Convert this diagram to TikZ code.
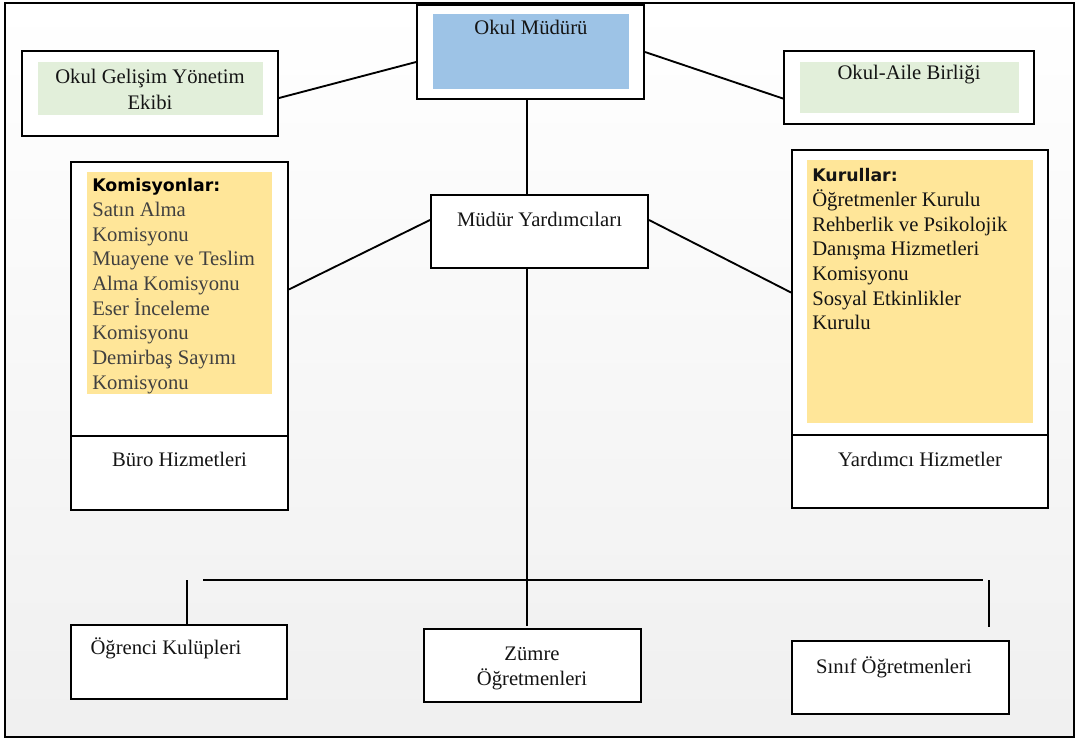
\documentclass[tikz,border=0pt]{standalone}
\usepackage{fontspec}
\setmainfont{Liberation Serif}
\newfontfamily\headfont{DejaVu Sans}
\usepackage{tikz}
\usetikzlibrary{positioning}
\usepackage{xcolor}
\definecolor{okblue}{RGB}{157,195,230}
\definecolor{okgreen}{RGB}{226,239,218}
\definecolor{okyellow}{RGB}{255,230,153}
\definecolor{okgray}{RGB}{64,64,64}
\definecolor{okink}{RGB}{20,20,20}
\newcommand{\pxl}{0.75pt}
\newcommand{\headline}[1]{{\headfont\bfseries\fontsize{13}{18.5}\selectfont #1}}
\tikzstyle{frame} = [rectangle, draw=black, line width=1.5pt, fill=white, inner sep=0pt]
\tikzstyle{panel} = [rectangle, inner sep=0pt]
\tikzstyle{txt} = [inner sep=0pt, font=\fontsize{15.5}{18.5}\selectfont, text=okink]
\tikzstyle{line} = [line width=1.4pt, color=black]

\begin{document}
\begin{tikzpicture}[x=0.75pt, y=-0.75pt]
\useasboundingbox (0,0) rectangle (1078,740);
% page background and frame
\shade[top color=white, bottom color=black!6] (5,3) rectangle (1074,737);
\draw[line width=1.6pt] (5,3) rectangle (1074,737);

% top row
\node[frame, minimum width=227*\pxl, minimum height=94*\pxl] (mudur) at (530.5,52) {};
\node[panel, fill=okblue, minimum width=196*\pxl, minimum height=75*\pxl] (mudurbg) at (531,51.5) {};
\node[txt] (mudurtxt) at (531,27) {Okul Müdürü};

\node[frame, minimum width=256*\pxl, minimum height=85*\pxl] (gelisim) at (150,93.5) {};
\node[panel, fill=okgreen, minimum width=225*\pxl, minimum height=53*\pxl] (gelisimbg) at (150.5,88.5) {};
\node[txt, align=center, font=\fontsize{15.5}{19.5}\selectfont] (gelisimtxt) at (150,89) {Okul Gelişim Yönetim\\Ekibi};

\node[frame, minimum width=250*\pxl, minimum height=73*\pxl] (aile) at (909,87.5) {};
\node[panel, fill=okgreen, minimum width=219*\pxl, minimum height=51*\pxl] (ailebg) at (909.5,87.5) {};
\node[txt] (ailetxt) at (909,75) {Okul-Aile Birliği};

% middle row
\node[frame, minimum width=217*\pxl, minimum height=73*\pxl] (yard) at (539.5,231.5) {};
\node[txt] (yardtxt) at (539.5,219) {Müdür Yardımcıları};

\node[frame, minimum width=217*\pxl, minimum height=274*\pxl] (komis) at (179.5,299) {};
\node[panel, fill=okyellow, minimum width=185*\pxl, minimum height=222*\pxl] (komisbg) at (179.5,283) {};
\node[txt, text=okgray, align=left, anchor=north west] (komistxt) at (92,178.5)
  {\headline{\textcolor{black}{Komisyonlar:}}\\Satın Alma\\Komisyonu\\Muayene ve Teslim\\Alma Komisyonu\\Eser İnceleme\\Komisyonu\\Demirbaş Sayımı\\Komisyonu};
\node[frame, minimum width=217*\pxl, minimum height=74*\pxl] (buro) at (179.5,473) {};
\node[txt] (burotxt) at (179.5,459) {Büro Hizmetleri};

\node[frame, minimum width=256*\pxl, minimum height=285*\pxl] (kurul) at (920,292.5) {};
\node[panel, fill=okyellow, minimum width=226*\pxl, minimum height=263*\pxl] (kurulbg) at (920,291.5) {};
\node[txt, align=left, anchor=north west] (kurultxt) at (812,168.5)
  {\headline{Kurullar:}\\Öğretmenler Kurulu\\Rehberlik ve Psikolojik\\Danışma Hizmetleri\\Komisyonu\\Sosyal Etkinlikler\\Kurulu};
\node[frame, minimum width=256*\pxl, minimum height=73*\pxl] (yardhiz) at (920,471.5) {};
\node[txt] (yardhiztxt) at (920,459) {Yardımcı Hizmetler};

% bottom row
\node[frame, minimum width=216*\pxl, minimum height=74*\pxl] (ogrenci) at (179,662) {};
\node[txt] (ogrencitxt) at (166,648) {Öğrenci Kulüpleri};
\node[frame, minimum width=217*\pxl, minimum height=73*\pxl] (zumre) at (532,665.5) {};
\node[txt, align=center, font=\fontsize{15.5}{18.75}\selectfont] (zumretxt) at (532,668.5) {Zümre\\Öğretmenleri};
\node[frame, minimum width=217*\pxl, minimum height=73*\pxl] (sinif) at (900,677.5) {};
\node[txt] (siniftxt) at (894,667) {Sınıf Öğretmenleri};

% connectors
\coordinate (trunk) at (527,0);
\draw[line] (mudur.185) -- (gelisim.358);
\draw[line] (mudur.east) -- (aile.185);
\draw[line] (mudur.south -| trunk) -- (yard.north -| trunk);
\draw[line] (yard.174) -- (komis.5);
\draw[line] (yard.6) -- (kurul.west);

\coordinate (trunkend) at (527,626);
\draw[line] (yard.south -| trunk) -- (trunkend);
\coordinate (busL) at (203,580);
\coordinate (busR) at (983,580);
\draw[line, line width=1.8pt] (busL) -- (busR);
\coordinate (dropL) at (187,580);
\draw[line] (dropL) -- (dropL |- ogrenci.north);
\coordinate (dropR) at (989,580);
\coordinate (dropRend) at (989,627);
\draw[line] (dropR) -- (dropRend);
\end{tikzpicture}
\end{document}
